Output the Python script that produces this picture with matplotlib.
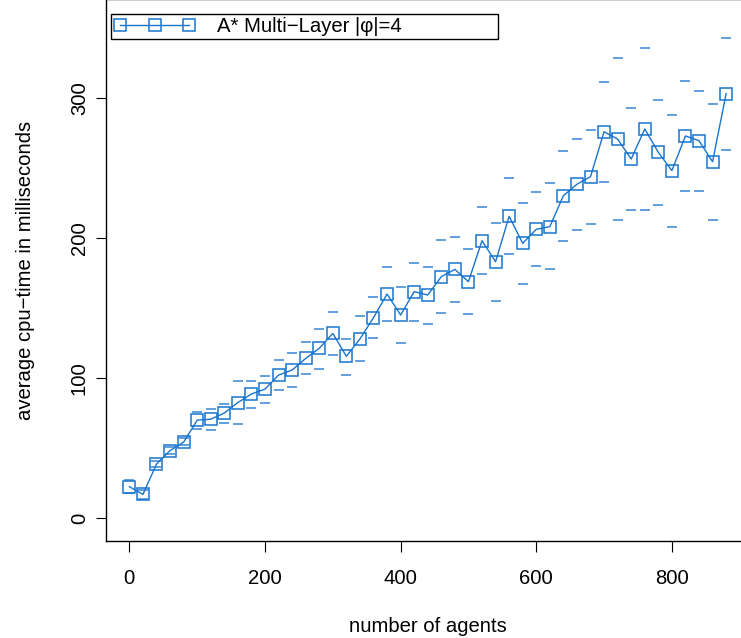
import matplotlib
matplotlib.use("Agg")
import matplotlib.pyplot as plt
from matplotlib.lines import Line2D

# ===== data =====
agents = [0, 20, 40, 60, 80, 100, 120, 140, 160, 180,
          200, 220, 240, 260, 280, 300, 320, 340, 360, 380,
          400, 420, 440, 460, 480, 500, 520, 540, 560, 580,
          600, 620, 640, 660, 680, 700, 720, 740, 760, 780,
          800, 820, 840, 860, 880]

mean_ms = [22.4, 16.9, 38.5, 48.2, 54.2, 69.9, 70.6, 75.0, 82.5, 88.6,
           92.1, 102.1, 105.7, 114.0, 121.2, 131.9, 115.5, 127.9, 143.1, 160.0,
           145.0, 161.7, 159.3, 172.4, 177.6, 168.8, 198.1, 183.1, 215.5, 196.2,
           206.2, 208.1, 230.2, 238.4, 243.8, 275.9, 270.7, 256.4, 277.9, 261.2,
           248.1, 272.9, 269.5, 254.5, 303.1]

upper_ms = [27.3, 20.0, 40.5, 51.0, 57.0, 75.9, 78.0, 81.6, 98.0, 98.0,
            101.7, 112.9, 117.6, 125.5, 135.0, 147.0, 127.9, 144.3, 158.1, 179.5,
            165.2, 181.9, 179.5, 198.6, 201.0, 191.9, 221.9, 210.9, 242.9, 225.2,
            232.6, 239.0, 262.1, 270.9, 277.1, 311.6, 328.8, 293.1, 335.5, 298.6,
            287.9, 311.9, 304.8, 295.7, 343.1]

lower_ms = [17.6, 13.8, 36.5, 45.5, 52.0, 63.3, 62.9, 67.6, 67.4, 78.8,
            81.9, 91.4, 93.8, 102.6, 106.4, 116.1, 102.1, 112.1, 128.3, 140.7,
            125.2, 141.0, 138.6, 146.2, 154.0, 145.7, 174.1, 155.2, 188.4, 166.9,
            180.0, 177.7, 198.1, 205.6, 210.0, 239.8, 212.6, 219.8, 220.0, 223.6,
            208.1, 233.6, 233.8, 212.9, 262.9]

LABEL = "A* Multi\u2212Layer |\u03c6|=4"
COLOR = "#1874CD"
FS = 14.6

plt.rcParams["font.family"] = ["Liberation Sans", "DejaVu Sans"]

fig = plt.figure(figsize=(7.41, 6.38), dpi=100)
# plot box runs just past the top and right edge of the picture (cropped)
ax = fig.add_axes([105.5 / 741, 97 / 638, 644.5 / 741, 542 / 638])

ax.plot(agents, mean_ms, color=COLOR, linewidth=1.0,
        marker="s", markersize=8.2, markerfacecolor="none",
        markeredgecolor=COLOR, markeredgewidth=1.1)
ax.plot(agents, upper_ms, linestyle="none", marker="_", markersize=6.5,
        markeredgewidth=1.2, color=COLOR, alpha=0.8)
ax.plot(agents, lower_ms, linestyle="none", marker="_", markersize=6.5,
        markeredgewidth=1.2, color=COLOR, alpha=0.8)

ax.set_xlim(-35.2, 915.2)
ax.set_ylim(-16.4, 370.7)
ax.set_xticks([0, 200, 400, 600, 800])
ax.set_yticks([0, 100, 200, 300])
ax.set_yticklabels(["0", "100", "200", "300"], rotation=90, va="center")

ax.tick_params(axis="x", length=8, width=0.8, pad=12, labelsize=FS)
ax.tick_params(axis="y", length=7, width=0.8, pad=5, labelsize=FS)
for s in ax.spines.values():
    s.set_linewidth(1.0)

ax.set_xlabel("number of agents", fontsize=FS, labelpad=21)
ax.set_ylabel("average cpu\u2212time in milliseconds", fontsize=FS, labelpad=25)

handle = Line2D([], [], color=COLOR, linewidth=1.0, marker="s", markersize=8.2,
                markerfacecolor="none", markeredgecolor=COLOR, markeredgewidth=1.1)
leg = fig.legend([handle], [LABEL], loc="upper left",
                 bbox_to_anchor=(111 / 741, 1 - 39 / 638, 387 / 741, 25 / 638),
                 mode="expand", numpoints=3, handlelength=4.0, handletextpad=1.1,
                 borderpad=0.15, borderaxespad=0, fontsize=FS, fancybox=False,
                 framealpha=1, edgecolor="black")
leg.get_frame().set_linewidth(1.0)

fig.savefig("out.png", dpi=100)
